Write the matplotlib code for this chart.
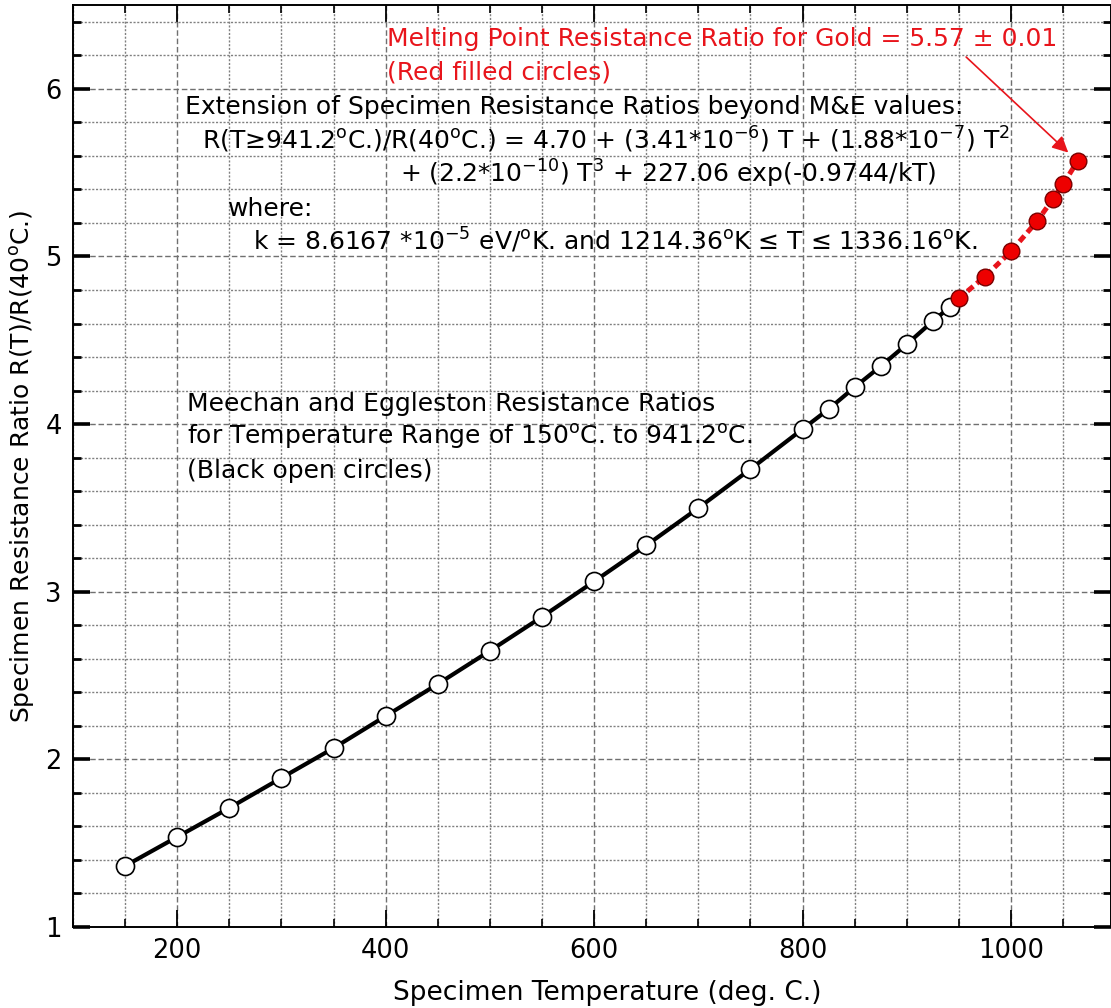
import numpy as np
import matplotlib
matplotlib.use("Agg")
from matplotlib import pyplot as plt
from matplotlib.ticker import MultipleLocator

plt.rcParams['font.family'] = ['DejaVu Sans']
plt.rcParams['mathtext.fontset'] = 'dejavusans'

# Meechan & Eggleston values (black open circles)
temp_me = [150, 200, 250, 300, 350, 400, 450, 500, 550, 600, 650, 700, 750,
           800, 825, 850, 875, 900, 925, 941.2]
ratio_me = [1.364, 1.537, 1.710, 1.889, 2.067, 2.258, 2.449, 2.647, 2.850, 3.061,
            3.276, 3.499, 3.731, 3.970, 4.089, 4.220, 4.345, 4.476, 4.614, 4.697]

# extension up to melting point (red filled circles)
temp_ext = [950, 975, 1000, 1025, 1040, 1050, 1064]
ratio_ext = [4.75, 4.88, 5.03, 5.21, 5.34, 5.43, 5.57]

fig = plt.figure(figsize=(11.11, 10.08), dpi=100)
ax = fig.add_axes([0.0657, 0.0804, 0.9343, 0.9146])

ax.set_xlim(100, 1096)
ax.set_ylim(1, 6.5)
ax.xaxis.set_major_locator(MultipleLocator(200))
ax.xaxis.set_minor_locator(MultipleLocator(50))
ax.yaxis.set_major_locator(MultipleLocator(1))
ax.yaxis.set_minor_locator(MultipleLocator(0.2))

ax.grid(which='major', color='#707070', linestyle=(0, (4, 2)), linewidth=1.0)
ax.grid(which='minor', color='#808080', linestyle=(0, (1.5, 1.2)), linewidth=1.0)
ax.set_axisbelow(True)

ax.tick_params(which='both', direction='in', top=True, right=True, labelsize=18.5, pad=8)
ax.tick_params(axis='x', which='major', length=12, width=1.3)
ax.tick_params(axis='x', which='minor', length=6, width=1.2)
ax.tick_params(axis='y', which='major', length=12, width=2.6)
ax.tick_params(axis='y', which='minor', length=6, width=2.0)
for s in ax.spines.values():
    s.set_linewidth(1.4)

# red dashed extension, starting from the last M&E point
ax.plot([temp_me[-1]] + temp_ext, [ratio_me[-1]] + ratio_ext, color='#e8141b',
        linestyle=(0, (1.5, 0.9)), linewidth=3.6, zorder=3)
ax.plot(temp_me, ratio_me, color='black', linewidth=3.0, zorder=4)
ax.plot(temp_me, ratio_me, 'o', markersize=13, markerfacecolor='white',
        markeredgecolor='black', markeredgewidth=1.2, zorder=5)
ax.plot(temp_ext, ratio_ext, 'o', markersize=12, markerfacecolor='#ee0000',
        markeredgecolor='#7a0000', markeredgewidth=1.0, zorder=5)

ax.set_xlabel('Specimen Temperature (deg. C.)', fontsize=19)
ax.xaxis.set_label_coords(0.515, -0.058)
ax.set_ylabel(r'Specimen Resistance Ratio R(T)/R(40$^{\rm o}$C.)', fontsize=18, labelpad=6)

fs = 18
red = '#e8141b'
ax.text(401, 6.253, 'Melting Point Resistance Ratio for Gold = 5.57 \u00b1 0.01',
        color=red, fontsize=fs, va='baseline')
ax.text(401, 6.057, '(Red filled circles)', color=red, fontsize=fs, va='baseline')
ax.annotate('', xy=(1055, 5.62), xytext=(957, 6.19),
            arrowprops=dict(arrowstyle='-|>', color=red, lw=1.2,
                            mutation_scale=24, shrinkA=0, shrinkB=0))

ax.text(207, 5.848, 'Extension of Specimen Resistance Ratios beyond M&E values:',
        fontsize=fs, va='baseline')
ax.text(224, 5.642, 'R(T\u2265941.2$^{\\rm o}$C.)/R(40$^{\\rm o}$C.) = 4.70 + (3.41*10$^{-6}$) T'
        ' + (1.88*10$^{-7}$) T$^{2}$', fontsize=fs, va='baseline')
ax.text(414, 5.442, r'+ (2.2*10$^{-10}$) T$^{3}$ + 227.06 exp(-0.9744/kT)',
        fontsize=fs, va='baseline')
ax.text(249, 5.240, 'where:', fontsize=fs, va='baseline')
ax.text(273, 5.037, 'k = 8.6167 *10$^{-5}$ eV/$^{\\rm o}$K. and 1214.36$^{\\rm o}$K'
        ' \u2264 T \u2264 1336.16$^{\\rm o}$K.', fontsize=fs, va='baseline')

ax.text(209, 4.077, 'Meechan and Eggleston Resistance Ratios', fontsize=fs, va='baseline')
ax.text(209, 3.880, r'for Temperature Range of 150$^{\rm o}$C. to 941.2$^{\rm o}$C.',
        fontsize=fs, va='baseline')
ax.text(209, 3.679, '(Black open circles)', fontsize=fs, va='baseline')

fig.savefig('out.png', dpi=100)
